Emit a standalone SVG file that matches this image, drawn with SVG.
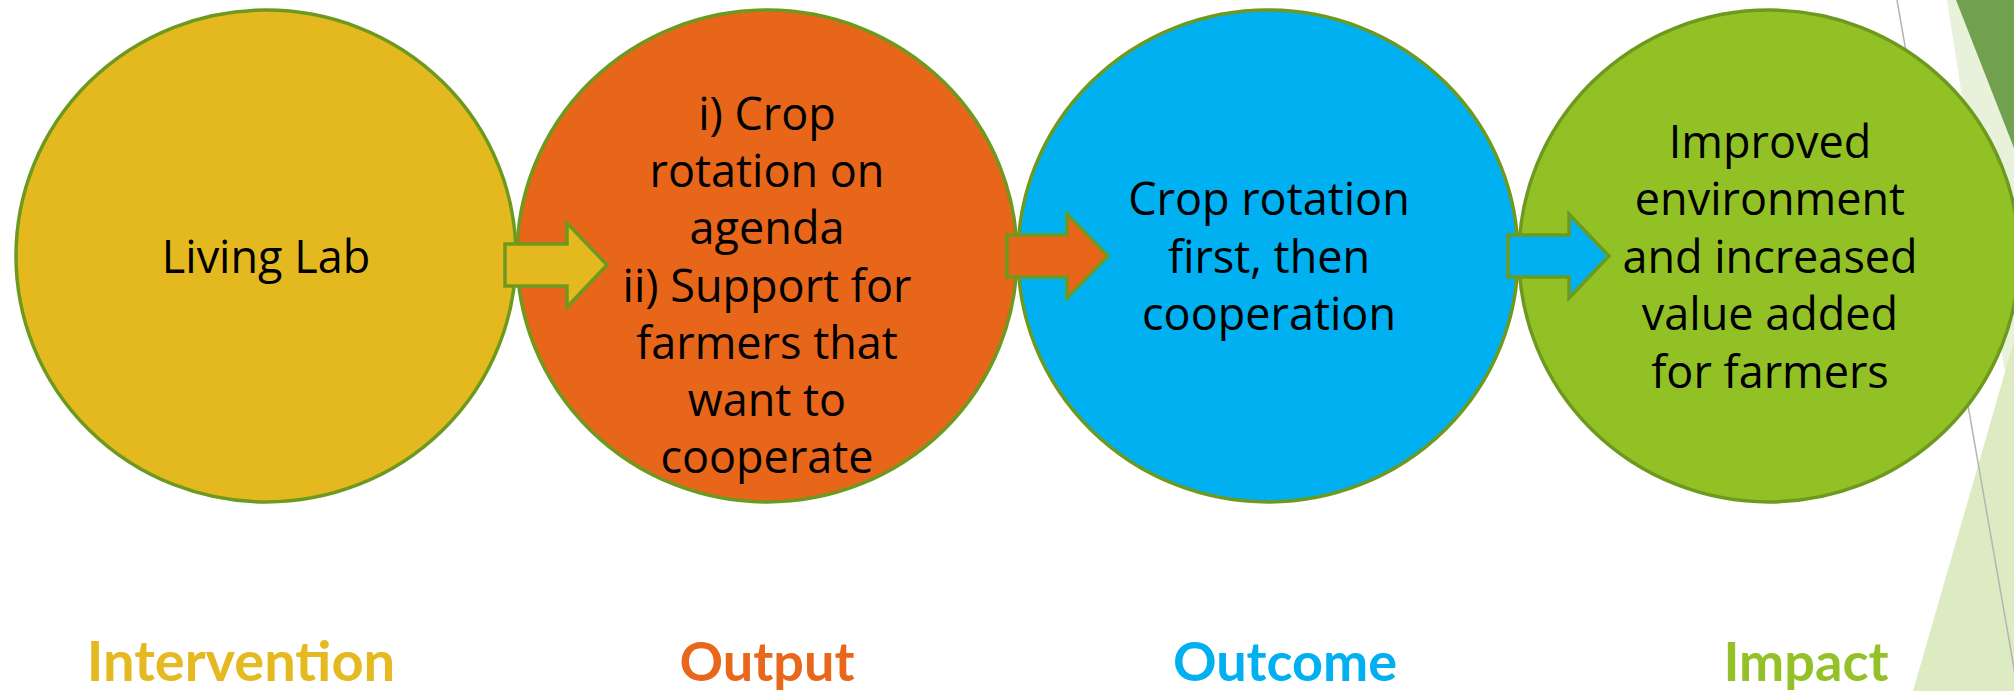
<svg xmlns="http://www.w3.org/2000/svg" width="2014" height="691" viewBox="0 0 2014 691">
<style>
.node{stroke:#6D9A1E;stroke-width:3.5}
.body{font-family:"Open Sans","Liberation Sans",sans-serif;font-size:45px;fill:#000;text-anchor:middle}
.lbl{font-family:Lato,"Liberation Sans",sans-serif;font-weight:bold;font-size:54px;text-anchor:middle}
.big{font-size:56px}
.arrow{stroke:#6D9A1E;stroke-width:3.5;stroke-linejoin:miter}
</style>
<rect x="0" y="0" width="2014" height="691" fill="#ffffff"/>
<g id="background">
  <polygon points="1947,0 2014,0 2014,430" fill="#E8F1D9"/>
  <polygon points="1956,0 2014,0 2014,148" fill="#71A04F"/>
  <polygon points="1913,691 2014,341 2014,691" fill="#DDEBC3"/>
  <line x1="1897" y1="0" x2="2018" y2="691" stroke="#B4B4B4" stroke-width="1.5"/>
</g>
<g id="node-intervention">
  <ellipse class="node" cx="266" cy="256" rx="250" ry="246" fill="#E4B91F"/>
  <text class="body" x="266" y="273">Living Lab</text>
</g>
<g id="node-output">
  <ellipse class="node" cx="767" cy="256" rx="250" ry="246" fill="#E7661A"/>
  <text class="body" x="767" y="130">i) Crop</text>
  <text class="body" x="767" y="187">rotation on</text>
  <text class="body" x="767" y="244">agenda</text>
  <text class="body" x="767" y="302">ii) Support for</text>
  <text class="body" x="767" y="359">farmers that</text>
  <text class="body" x="767" y="416">want to</text>
  <text class="body" x="767" y="473">cooperate</text>
</g>
<g id="node-outcome">
  <ellipse class="node" cx="1268" cy="256" rx="250" ry="246" fill="#00B0F0"/>
  <text class="body" x="1269" y="215">Crop rotation</text>
  <text class="body" x="1269" y="273">first, then</text>
  <text class="body" x="1269" y="330">cooperation</text>
</g>
<g id="node-impact">
  <ellipse class="node" cx="1769" cy="256" rx="250" ry="246" fill="#92C126"/>
  <text class="body" x="1770" y="158">Improved</text>
  <text class="body" x="1770" y="215">environment</text>
  <text class="body" x="1770" y="273">and increased</text>
  <text class="body" x="1770" y="330">value added</text>
  <text class="body" x="1770" y="388">for farmers</text>
</g>
<g id="connectors">
  <polygon class="arrow" fill="#E4B91F" points="505,244 567,244 567,223 607,265 567,307 567,286 505,286"/>
  <polygon class="arrow" fill="#E7661A" points="1007,235 1067,235 1067,214 1108,256 1067,298 1067,277 1007,277"/>
  <polygon class="arrow" fill="#00B0F0" points="1508,235 1569,235 1569,214 1609,256 1569,298 1569,277 1508,277"/>
</g>
<g id="labels">
  <text class="lbl big" x="241" y="681" fill="#E5B920">Intervention</text>
  <text class="lbl" x="767" y="681" fill="#E8671A">Output</text>
  <text class="lbl" x="1285" y="681" fill="#00B0F0">Outcome</text>
  <text class="lbl" x="1806" y="681" fill="#93C127">Impact</text>
</g>
</svg>
